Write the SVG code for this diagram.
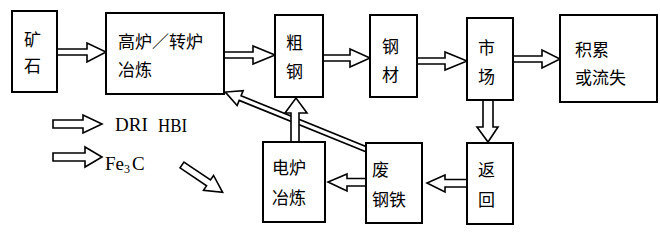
<svg xmlns="http://www.w3.org/2000/svg" width="660" height="244" viewBox="0 0 660 244">
<style>
.box{fill:#fff;stroke:#000;stroke-width:2}
.ar{fill:#fff;stroke:#000;stroke-width:1.6;stroke-linejoin:miter}
.zh{font-family:"Noto Sans CJK SC","Noto Sans",sans-serif;font-size:17px;fill:#000}
.en{font-family:"Liberation Serif","DejaVu Serif",serif;font-size:19px;fill:#000}
</style>
<rect width="660" height="244" fill="#fff"/>
<g id="connectors">
  <!-- diagonal scrap -> BF/BOF -->
  <g transform="translate(368,150) rotate(202.1)">
    <polygon class="ar" points="0,-2.5 138,-2.5 138,-8 154,0 138,8 138,2.5 0,2.5"/>
  </g>
  <!-- ore -> BF -->
  <polygon class="ar" points="57,49 87,49 87,43 106,52 87,62 87,55 57,55"/>
  <!-- BF -> crude steel -->
  <polygon class="ar" points="224,52 253,52 253,46 275,55 253,64 253,58 224,58"/>
  <!-- crude -> steel product -->
  <polygon class="ar" points="323,55 350,55 350,49 370,58 350,67 350,61 323,61"/>
  <!-- steel product -> market -->
  <polygon class="ar" points="417,58 445,58 445,52 467,61 445,70 445,64 417,64"/>
  <!-- market -> accumulation -->
  <polygon class="ar" points="513,56 542,56 542,50 560,59 542,68 542,62 513,62"/>
  <!-- market -> return -->
  <polygon class="ar" points="483,100 483,127 477,127 488,142 498,127 493,127 493,100"/>
  <!-- return -> scrap -->
  <polygon class="ar" points="467,179.5 445,179.5 445,175 427,183 445,192 445,187 467,187"/>
  <!-- scrap -> EAF -->
  <polygon class="ar" points="366,178.5 347,178.5 347,174 328,182 347,191 347,186 366,186"/>
  <!-- EAF -> crude steel -->
  <polygon class="ar" points="291,142 291,113 285,113 296,98 307,113 299,113 299,142"/>
  <!-- legend arrows -->
  <polygon class="ar" points="53,120 83,120 83,115 102,124 83,133 83,128 53,128"/>
  <polygon class="ar" points="53,153 85,153 85,147 102,157 85,167 85,161 53,161"/>
  <g transform="translate(182,165) rotate(34)">
    <polygon class="ar" points="0,-3.5 32,-3.5 32,-9 49,0 32,9 32,3.5 0,3.5"/>
  </g>
</g>
<g id="ore"><rect class="box" x="12" y="11" width="45" height="81"/>
  <text class="zh" x="24" y="46">矿</text><text class="zh" x="24" y="72">石</text></g>
<g id="bf"><rect class="box" x="106" y="13" width="118" height="81"/>
  <text class="zh" x="118" y="48">高炉／转炉</text><text class="zh" x="118" y="76">冶炼</text></g>
<g id="crude"><rect class="box" x="275" y="15" width="48" height="82"/>
  <text class="zh" x="286" y="49">粗</text><text class="zh" x="286" y="78">钢</text></g>
<g id="steel"><rect class="box" x="370" y="15" width="47" height="82"/>
  <text class="zh" x="382" y="53">钢</text><text class="zh" x="382" y="81">材</text></g>
<g id="market"><rect class="box" x="467" y="18" width="46" height="82"/>
  <text class="zh" x="478" y="54">市</text><text class="zh" x="478" y="83">场</text></g>
<g id="accum"><rect class="box" x="560" y="15" width="97" height="87"/>
  <text class="zh" x="575" y="56">积累</text><text class="zh" x="575" y="84">或流失</text></g>
<g id="scrap"><rect class="box" x="366" y="143" width="56" height="80"/>
  <text class="zh" x="372" y="176">废</text><text class="zh" x="372" y="206">钢铁</text></g>
<g id="return"><rect class="box" x="467" y="143" width="46" height="81"/>
  <text class="zh" x="478" y="176">返</text><text class="zh" x="478" y="206">回</text></g>
<g id="eaf"><rect class="box" x="263" y="142" width="62" height="80"/>
  <text class="zh" x="272" y="174">电炉</text><text class="zh" x="272" y="204">冶炼</text></g>
<g id="legend">
  <text class="en" x="115" y="131">DRI</text>
  <text class="en" x="158" y="132" textLength="29" lengthAdjust="spacingAndGlyphs">HBI</text>
  <text class="en" x="105" y="170">Fe<tspan font-size="12" dy="3">3</tspan><tspan dy="-3" dx="2">C</tspan></text>
</g>
</svg>
